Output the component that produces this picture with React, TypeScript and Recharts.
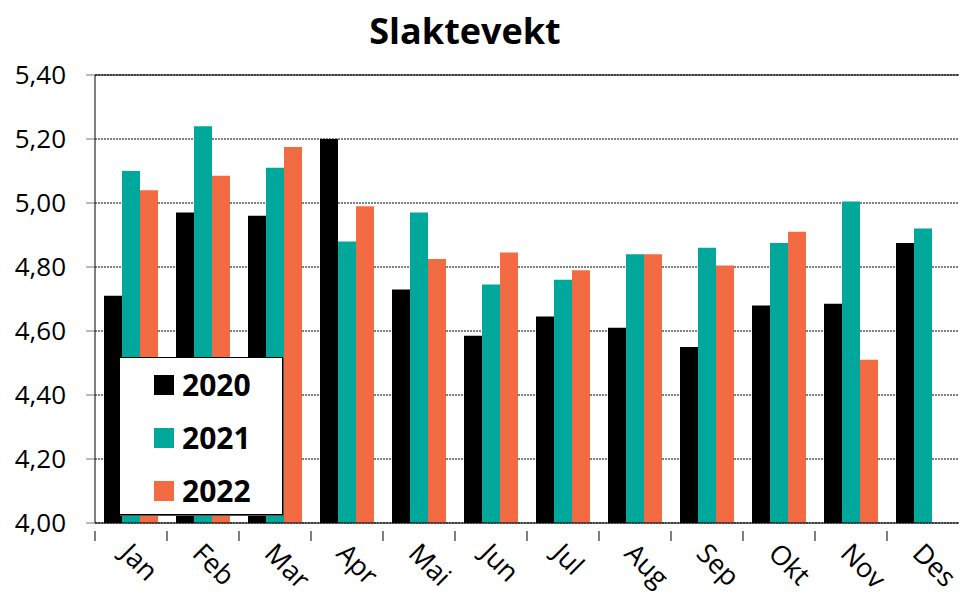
import { BarChart, Bar, XAxis, YAxis, CartesianGrid, ReferenceLine } from "recharts";

const months = ["Jan", "Feb", "Mar", "Apr", "Mai", "Jun", "Jul", "Aug", "Sep", "Okt", "Nov", "Des"];
const v2020 = [4.71, 4.97, 4.96, 5.2, 4.73, 4.585, 4.645, 4.61, 4.55, 4.68, 4.685, 4.875];
const v2021 = [5.1, 5.24, 5.11, 4.88, 4.97, 4.745, 4.76, 4.84, 4.86, 4.875, 5.005, 4.92];
const v2022 = [5.04, 5.085, 5.175, 4.99, 4.825, 4.845, 4.79, 4.84, 4.805, 4.91, 4.51, null];
const yTicks = [4.0, 4.2, 4.4, 4.6, 4.8, 5.0, 5.2, 5.4];

const series = [
  { key: "y2020", name: "2020", color: "#000000" },
  { key: "y2021", name: "2021", color: "#00a89c" },
  { key: "y2022", name: "2022", color: "#f26b43" },
];

const data = months.map((m, i) => ({ month: m, y2020: v2020[i], y2021: v2021[i], y2022: v2022[i] }));

const font = "'Open Sans', sans-serif";

function MonthTick(props: any) {
  const { x, y, payload } = props;
  const half = payload.offset ?? 36;
  return (
    <g>
      <line x1={x - half} y1={y} x2={x - half} y2={y + 10} stroke="#000" strokeWidth={1} />
      <text
        x={x - 12}
        y={y + 24}
        transform={`rotate(45 ${x - 12} ${y + 24})`}
        textAnchor="start"
        fontFamily={font}
        fontSize={27}
        fill="#000"
      >
        {payload.value}
      </text>
    </g>
  );
}

function LegendBox() {
  return (
    <div
      style={{
        position: "absolute",
        left: 119,
        top: 357,
        width: 164,
        height: 158,
        boxSizing: "border-box",
        border: "1px solid #000",
        boxShadow: "1px 1px 0 #555",
        background: "#fff",
        padding: "0 0 0 34px",
        fontFamily: font,
      }}
    >
      {series.map((s) => (
        <div key={s.key} style={{ display: "flex", alignItems: "center", height: 53 }}>
          <span style={{ width: 20, height: 20, background: s.color, display: "inline-block", marginRight: 8 }} />
          <span style={{ fontSize: 30, fontWeight: 700, color: "#000" }}>{s.name}</span>
        </div>
      ))}
    </div>
  );
}

export default function App() {
  return (
    <div style={{ position: "absolute", left: 0, top: 0, width: 961, height: 603, background: "#fff" }}>
      <div
        style={{
          position: "absolute",
          left: 0,
          top: 6,
          width: 930,
          textAlign: "center",
          fontFamily: font,
          fontWeight: 700,
          fontSize: 36,
          color: "#000",
        }}
      >
        Slaktevekt
      </div>
      <BarChart
        width={961}
        height={603}
        data={data}
        margin={{ top: 75, right: 2, bottom: 0, left: 0 }}
        barCategoryGap={9}
        barGap={0}
      >
        <CartesianGrid vertical={false} stroke="#000" strokeDasharray="2 1" />
        <XAxis
          dataKey="month"
          height={80}
          tickLine={false}
          axisLine={{ stroke: "#000" }}
          tick={<MonthTick />}
          interval={0}
        />
        <YAxis
          domain={[4, 5.4]}
          ticks={yTicks}
          width={95}
          tickSize={9}
          tickMargin={20}
          tickLine={{ stroke: "#777" }}
          axisLine={{ stroke: "#000" }}
          tickFormatter={(v: number) => v.toFixed(2).replace(".", ",")}
          tick={{ fontFamily: font, fontSize: 26, fill: "#000" }}
          allowDataOverflow
        />
        <ReferenceLine y={5.4} stroke="#000" strokeWidth={1} />
        {series.map((s) => (
          <Bar key={s.key} dataKey={s.key} name={s.name} fill={s.color} isAnimationActive={false} />
        ))}
      </BarChart>
      <LegendBox />
    </div>
  );
}
